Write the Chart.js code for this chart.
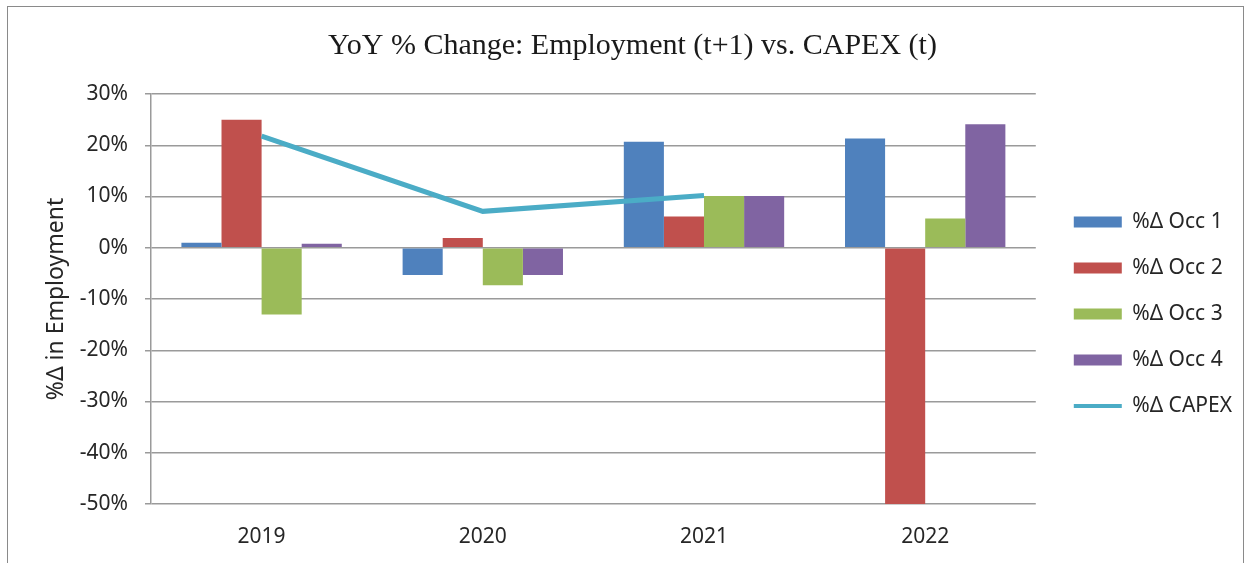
<!DOCTYPE html>
<html>
<head>
<meta charset="utf-8">
<script src="https://cdn.jsdelivr.net/npm/chart.js@4/dist/chart.umd.min.js"></script>
<style>
  html, body { margin: 0; padding: 0; background: #ffffff; }
  #wrap { position: relative; width: 1248px; height: 563px; overflow: hidden; background: #ffffff; }
  #frame { position: absolute; left: 7px; top: 6px; width: 1237px; height: 620px; border: 1.5px solid #8a8a8a; box-sizing: border-box; }
  #chart { position: absolute; left: 0; top: 0; }
</style>
</head>
<body>
<div id="wrap">
  <div id="frame"></div>
  <canvas id="chart" width="1248" height="563"></canvas>
</div>
<script>
// Years on the category axis
const years = ['2019', '2020', '2021', '2022'];

// Year-over-year % change in employment (t+1), by occupation
const occ1 = [1.0, -5.3, 20.7, 21.3];
const occ2 = [25.0, 1.9, 6.1, -50.0];
const occ3 = [-13.0, -7.3, 10.1, 5.7];
const occ4 = [0.8, -5.3, 10.1, 24.1];

// Year-over-year % change in CAPEX (t)
const capex = [21.8, 7.1, 10.2, null];

// Value axis range and step
const yMin = -50;
const yMax = 30;
const yStep = 5;

const seriesNames = ['%\u0394 Occ 1', '%\u0394 Occ 2', '%\u0394 Occ 3', '%\u0394 Occ 4', '%\u0394 CAPEX'];
const seriesColors = ['#4F81BD', '#C0504D', '#9BBB59', '#8064A2', '#4BACC6'];

const sansFont = "'Noto Sans', 'Liberation Sans', sans-serif";
const textColor = '#262626';
const gridColor = '#9a9a9a';

// Shifts the legend block and the title a little inside their layout boxes
const blockNudge = {
  id: 'blockNudge',
  afterLayout: function (chart, args, opts) {
    const lg = chart.legend;
    if (lg) {
      lg.left += opts.legendDx; lg.right += opts.legendDx;
      lg.top += opts.legendDy; lg.bottom += opts.legendDy;
    }
    const tb = chart.titleBlock;
    if (tb) {
      tb.left += opts.titleDx; tb.right += opts.titleDx;
    }
  }
};

function barSet(label, data, color) {
  return {
    type: 'bar',
    label: label,
    data: data,
    backgroundColor: color,
    borderWidth: 0,
    categoryPercentage: 0.725,
    barPercentage: 1.0,
    order: 2
  };
}

new Chart(document.getElementById('chart'), {
  data: {
    labels: years,
    datasets: [
      barSet(seriesNames[0], occ1, seriesColors[0]),
      barSet(seriesNames[1], occ2, seriesColors[1]),
      barSet(seriesNames[2], occ3, seriesColors[2]),
      barSet(seriesNames[3], occ4, seriesColors[3]),
      {
        type: 'line',
        label: seriesNames[4],
        data: capex,
        borderColor: seriesColors[4],
        backgroundColor: seriesColors[4],
        borderWidth: 5,
        pointRadius: 0,
        pointHoverRadius: 0,
        tension: 0,
        spanGaps: false,
        order: 1
      }
    ]
  },
  plugins: [blockNudge],
  options: {
    responsive: false,
    animation: false,
    layout: { padding: { left: 8, right: 19, top: 8, bottom: 15 } },
    plugins: {
      tooltip: { enabled: false },
      blockNudge: { legendDx: 13, legendDy: 36, titleDx: 14 },
      title: {
        display: true,
        text: 'YoY % Change: Employment (t+1) vs. CAPEX (t)',
        color: '#1a1a1a',
        font: { family: "'Liberation Serif', 'DejaVu Serif', serif", size: 30, weight: 'normal' },
        padding: { top: 20, bottom: 30 }
      },
      legend: {
        position: 'right',
        align: 'center',
        labels: {
          color: textColor,
          font: { family: sansFont, size: 21 },
          usePointStyle: true,
          pointStyleWidth: 48,
          boxHeight: 11,
          padding: 25,
          sort: function (a, b) { return a.datasetIndex - b.datasetIndex; },
          generateLabels: function (chart) {
            const items = Chart.defaults.plugins.legend.labels.generateLabels(chart);
            items.forEach(function (it) {
              const ds = chart.data.datasets[it.datasetIndex];
              if (ds.type === 'line') {
                it.pointStyle = 'line';
                it.lineWidth = 4;
                it.strokeStyle = ds.borderColor;
              } else {
                it.pointStyle = 'rect';
                it.lineWidth = 0;
              }
            });
            return items;
          }
        }
      }
    },
    scales: {
      x: {
        type: 'category',
        offset: true,
        afterFit: function (scale) { scale.height = 44; },
        grid: { display: false, drawTicks: false },
        border: { display: false },
        ticks: { color: textColor, font: { family: sansFont, size: 21 }, padding: 20, maxRotation: 0 }
      },
      y: {
        type: 'linear',
        min: yMin,
        max: yMax,
        afterFit: function (scale) { scale.width = 143; },
        ticks: {
          stepSize: yStep,
          color: textColor,
          font: { family: sansFont, size: 21 },
          padding: 17,
          callback: function (v) { return v % 10 === 0 ? v + '%' : ''; }
        },
        grid: { color: gridColor, lineWidth: 1.5, tickLength: 6, drawTicks: true },
        border: { display: true, color: gridColor, width: 1.5 },
        title: {
          display: true,
          text: '%\u0394 in Employment',
          color: textColor,
          font: { family: sansFont, size: 23 },
          padding: { top: 35, bottom: 4 }
        }
      }
    }
  }
});
</script>
</body>
</html>
